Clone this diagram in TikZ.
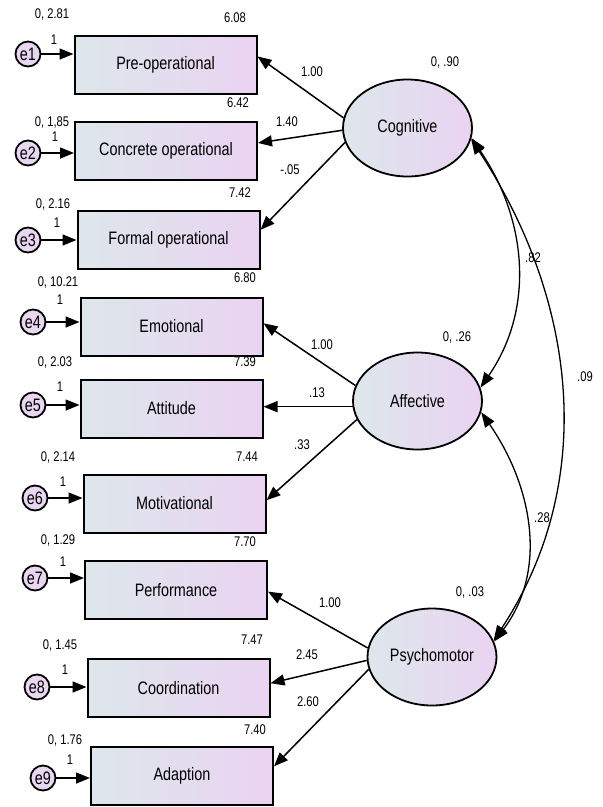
\documentclass[tikz,border=0pt]{standalone}
\usepackage{fontspec}
\setmainfont[FakeStretch=0.8]{Liberation Sans}
\usepackage{xcolor}
\usetikzlibrary{arrows.meta,shapes.geometric}

\definecolor{boxleft}{RGB}{221,231,235}
\definecolor{boxright}{RGB}{234,211,242}
\definecolor{errfill}{RGB}{233,215,241}

\tikzset{
    obs/.style={draw=black, line width=2pt, left color=boxleft, right color=boxright,
        minimum width=182pt, minimum height=58pt, inner sep=0pt, font=\fontsize{18}{18}\selectfont},
    lat/.style={ellipse, draw=black, line width=1.8pt, left color=boxleft, right color=boxright,
        minimum width=129pt, minimum height=97pt, inner sep=0pt, font=\fontsize{18}{18}\selectfont},
    err/.style={circle, draw=black, line width=1.8pt, fill=errfill, minimum size=25pt,
        inner sep=0pt, font=\fontsize{18}{18}\selectfont},
    num/.style={inner sep=0pt, font=\fontsize{14}{14}\selectfont},
    loadarr/.style={-{Triangle[length=14pt,width=11pt]}, line width=1.5pt},
    covarr/.style={{Triangle[length=15pt,width=11pt]}-{Triangle[length=15pt,width=11pt]}, line width=1.3pt},
}

\begin{document}
\begin{tikzpicture}[x=1pt,y=-1pt]
    \useasboundingbox (0,0) rectangle (603,807);

    % observed
    \node[obs] (pre) at (165.5,64.5) {Pre-operational};
    \node[obs] (con) at (166,151) {Concrete operational};
    \node[obs] (frm) at (168.5,239.5) {Formal operational};
    \node[obs] (emo) at (171.5,326.5) {Emotional};
    \node[obs] (att) at (171.5,408.5) {Attitude};
    \node[obs] (mot) at (174.5,503.5) {Motivational};
    \node[obs] (per) at (176,590) {Performance};
    \node[obs] (coo) at (178.5,688) {Coordination};
    \node[obs] (ada) at (182,776) {Adaption};

    % errors
    \node[err] (e1) at (28,54) {e1};
    \node[err] (e2) at (28,153) {e2};
    \node[err] (e3) at (28,240) {e3};
    \node[err] (e4) at (33,322) {e4};
    \node[err] (e5) at (33,405) {e5};
    \node[err] (e6) at (35,498) {e6};
    \node[err] (e7) at (35,578) {e7};
    \node[err] (e8) at (37,687) {e8};
    \node[err] (e9) at (43,778) {e9};
    \foreach \e/\b in {e1/pre,e2/con,e3/frm,e4/emo,e5/att,e6/mot,e7/per,e8/coo,e9/ada}
        \draw[loadarr] (\e) -- (\e -| \b.west);

    % error variances, weights, intercepts
    \node[num] (v1) at (52,15) {0, 2.81};
    \node[num] (w1) at (54,40) {1};
    \node[num] (m1) at (235,18) {6.08};
    \node[num] (v2) at (52,123) {0, 1,85};
    \node[num] (w2) at (55,137) {1};
    \node[num] (m2) at (238,103) {6.42};
    \node[num] (v3) at (53,205) {0, 2.16};
    \node[num] (w3) at (57,223) {1};
    \node[num] (m3) at (240,193) {7.42};
    \node[num] (v4) at (58,283) {0, 10.21};
    \node[num] (w4) at (60,300) {1};
    \node[num] (m4) at (245,278) {6.80};
    \node[num] (v5) at (55,362) {0, 2.03};
    \node[num] (w5) at (60,387) {1};
    \node[num] (m5) at (245,362) {7.39};
    \node[num] (v6) at (58,457) {0, 2.14};
    \node[num] (w6) at (63,482) {1};
    \node[num] (m6) at (247,457) {7.44};
    \node[num] (v7) at (58,540) {0, 1.29};
    \node[num] (w7) at (63,562) {1};
    \node[num] (m7) at (245,542) {7.70};
    \node[num] (v8) at (60,645) {0, 1.45};
    \node[num] (w8) at (65,670) {1};
    \node[num] (m8) at (252,640) {7.47};
    \node[num] (v9) at (65,740) {0, 1.76};
    \node[num] (w9) at (70,760) {1};
    \node[num] (m9) at (255,730) {7.40};

    % latent
    \node[lat] (cog) at (407.5,128) {Cognitive};
    \node[lat] (aff) at (417.5,401) {Affective};
    \node[lat] (psy) at (432,657) {Psychomotor};
    \node[num] (vc) at (445,63) {0, .90};
    \node[num] (va) at (457,338) {0, .26};
    \node[num] (vp) at (470,592) {0, .03};

    % loadings
    \draw[loadarr] (cog.171) -- (pre.5);
    \draw[loadarr] (cog.182) -- (con.5);
    \draw[loadarr] (cog.193) -- (frm.6);
    \draw[loadarr] (aff.166) -- (emo.2);
    \draw[loadarr] (aff.185) -- (aff.185 -| att.east);
    \draw[loadarr] (aff.197) -- (mot.2);
    \draw[loadarr] (psy.172) -- (per.-1);
    \draw[loadarr] (psy.183) -- (coo.3);
    \draw[loadarr] (psy.191) -- (ada.6);
    \node[num] (l1) at (312,72) {1.00};
    \node[num] (l2) at (287,122) {1.40};
    \node[num] (l3) at (290,170) {-.05};
    \node[num] (l4) at (322,345) {1.00};
    \node[num] (l5) at (317,393) {.13};
    \node[num] (l6) at (302,445) {.33};
    \node[num] (l7) at (330,603) {1.00};
    \node[num] (l8) at (307,655) {2.45};
    \node[num] (l9) at (308,702) {2.60};

    % covariances
    \draw[covarr] (cog.-9) .. controls +(55,80) and +(55,-80) .. (aff.12);
    \draw[covarr] (aff.-10) .. controls +(50,72) and +(55,-72) .. (psy.14);
    \draw[covarr] (cog.-10) .. controls +(105,160) and +(105,-160) .. (psy.15);
    \node[num] (c1) at (533,258) {.82};
    \node[num] (c2) at (542,518) {.28};
    \node[num] (c3) at (585,377) {.09};
\end{tikzpicture}
\end{document}
